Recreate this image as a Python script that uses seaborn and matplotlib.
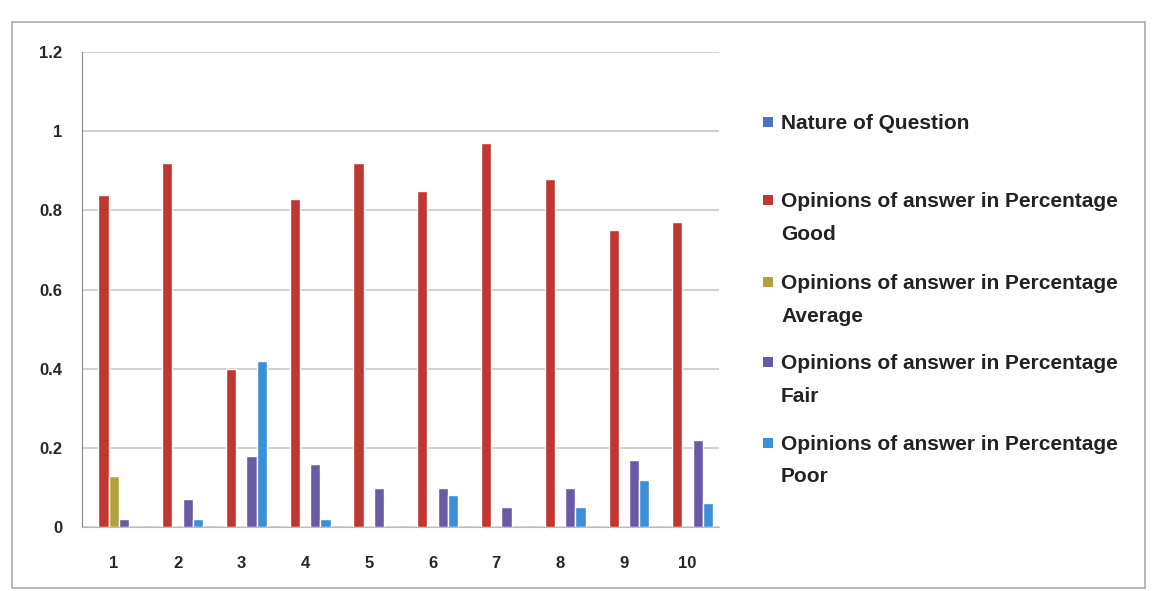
import matplotlib
matplotlib.use("Agg")
import matplotlib.pyplot as plt
import seaborn as sns
import pandas as pd
import numpy as np

# data
questions = ["1", "2", "3", "4", "5", "6", "7", "8", "9", "10"]
nature = [0, 0, 0, 0, 0, 0, 0, 0, 0, 0]
good = [0.84, 0.92, 0.40, 0.83, 0.92, 0.85, 0.97, 0.88, 0.75, 0.77]
average = [0.13, 0, 0, 0, 0, 0, 0, 0, 0, 0]
fair = [0.02, 0.07, 0.18, 0.16, 0.10, 0.10, 0.05, 0.10, 0.17, 0.22]
poor = [0, 0.02, 0.42, 0.02, 0, 0.08, 0, 0.05, 0.12, 0.06]

series_names = [
    "Nature of Question",
    "Opinions of answer in Percentage\nGood",
    "Opinions of answer in Percentage\nAverage",
    "Opinions of answer in Percentage\nFair",
    "Opinions of answer in Percentage\nPoor",
]
colors = ["#4a74c0", "#c0372f", "#b3a23a", "#6a5aa6", "#3b8fd6"]

rows = []
for name, vals in zip(series_names, [nature, good, average, fair, poor]):
    for q, v in zip(questions, vals):
        rows.append({"question": q, "series": name, "value": v})
df = pd.DataFrame(rows)

sns.set_style("white")
plt.rcParams["font.family"] = ["Liberation Sans", "DejaVu Sans"]

W, H = 1153, 591
fig = plt.figure(figsize=(W / 100, H / 100), dpi=100)
ax = fig.add_axes([0.071, 0.108, 0.553, 0.804])

sns.barplot(data=df, x="question", y="value", hue="series", order=questions,
            hue_order=series_names, palette=colors, width=0.8, gap=0,
            saturation=1, ax=ax, legend=False)

ax.set_ylim(0, 1.2)
ax.set_yticks([0, 0.2, 0.4, 0.6, 0.8, 1.0, 1.2])
ax.set_yticklabels(["0", "0.2", "0.4", "0.6", "0.8", "1", "1.2"])
ax.yaxis.grid(True, color="#c8c8c8", linewidth=1.2)
ax.set_axisbelow(True)
ax.set_xlim(-0.5, 9.5)
for side in ["top", "right"]:
    ax.spines[side].set_visible(False)
ax.spines["left"].set_color("#888888")
ax.spines["bottom"].set_color("#bbbbbb")
ax.tick_params(axis="x", length=0, pad=21)
ax.tick_params(axis="y", length=4, color="#888888", pad=10)
ax.set_xticks(np.arange(-0.5, 10, 1), minor=True)
ax.tick_params(axis="x", which="minor", length=5, color="#aaaaaa")
for lbl in ax.get_xticklabels() + ax.get_yticklabels():
    lbl.set_fontsize(12)
    lbl.set_fontweight("bold")
ax.set_xlabel("")
ax.set_ylabel("")

# legend drawn by hand: square on the first line of each entry
first_line_y = [122, 200, 282, 362, 443]
for name, c, yp in zip(series_names, colors, first_line_y):
    fig.patches.append(plt.Rectangle((763 / W, 1 - (yp + 5) / H), 10 / W, 10 / H,
                                     transform=fig.transFigure, facecolor=c,
                                     edgecolor="none"))
    fig.text(781 / W, 1 - (yp - 8) / H, name, fontsize=15, fontweight="bold",
             color="#222222", va="top", ha="left", linespacing=1.9,
             transform=fig.transFigure)

# outer frame
fig.patches.append(plt.Rectangle((12 / W, 3 / H), 1133 / W, 566 / H,
                                 transform=fig.transFigure, fill=False,
                                 edgecolor="#aaaaaa", linewidth=1.2))

fig.savefig("out.png", dpi=100)
